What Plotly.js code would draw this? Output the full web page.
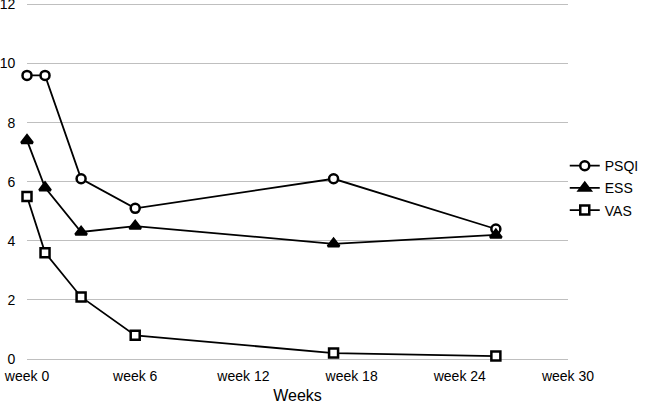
<!DOCTYPE html>
<html>
<head>
<meta charset="utf-8">
<script src="https://cdn.plot.ly/plotly-3.0.1.min.js"></script>
<style>html,body{margin:0;padding:0;background:#fff;}#chart{width:647px;height:404px;}</style>
</head>
<body>
<div id="chart"></div>
<script>
const weeks = [0, 1, 3, 6, 17, 26];
const psqi = [9.6, 9.6, 6.1, 5.1, 6.1, 4.4];
const ess = [7.4, 5.8, 4.3, 4.5, 3.9, 4.2];
const vas = [5.5, 3.6, 2.1, 0.8, 0.2, 0.1];
const tickVals = [0, 6, 12, 18, 24, 30];
const tickLabels = ['week 0', 'week 6', 'week 12', 'week 18', 'week 24', 'week 30'];
const yTicks = [0, 2, 4, 6, 8, 10, 12];

const font = {family: 'Liberation Sans, Arial, sans-serif', size: 14, color: '#000'};

function tr(name, y, symbol, size) {
  return {
    x: weeks, y: y, name: name, type: 'scatter', mode: 'lines+markers',
    legendgroup: name,
    line: {color: '#000', width: 1.8},
    marker: {symbol: symbol, size: size, color: symbol === 'triangle-up' ? '#000' : '#fff',
             line: {color: '#000', width: 2.5}},
    cliponaxis: false
  };
}

const data = [
  tr('PSQI', psqi, 'circle', 9),
  tr('ESS', ess, 'triangle-up', 10),
  tr('VAS', vas, 'square', 9)
];

const layout = {
  width: 647, height: 404,
  margin: {l: 27, r: 79, t: 3, b: 45, autoexpand: false},
  paper_bgcolor: '#fff', plot_bgcolor: '#fff',
  font: font,
  showlegend: true,
  legend: {x: 0.994, y: 0.48, xanchor: 'left', yanchor: 'middle', font: font,
           traceorder: 'grouped', tracegroupgap: 1, bgcolor: 'rgba(0,0,0,0)'},
  xaxis: {
    range: [0, 30], tickvals: tickVals, ticktext: tickLabels,
    showgrid: false, zeroline: false, showline: false,
    ticks: 'outside', ticklen: 4, tickcolor: 'rgba(0,0,0,0)',
    tickfont: font, automargin: false,
    title: {text: 'Weeks', font: {family: font.family, size: 16, color: '#000'}, standoff: 10}
  },
  yaxis: {
    range: [0, 12.05], tickvals: yTicks, ticktext: yTicks.map(String),
    showgrid: true, gridcolor: '#bfbfbf', gridwidth: 1,
    zeroline: true, zerolinecolor: '#bfbfbf', zerolinewidth: 1,
    showline: false, automargin: false, ticklabeloverflow: 'allow',
    ticks: 'outside', ticklen: 8, tickcolor: 'rgba(0,0,0,0)',
    tickfont: font
  }
};

Plotly.newPlot('chart', data, layout, {displayModeBar: false, staticPlot: true});
</script>
</body>
</html>
